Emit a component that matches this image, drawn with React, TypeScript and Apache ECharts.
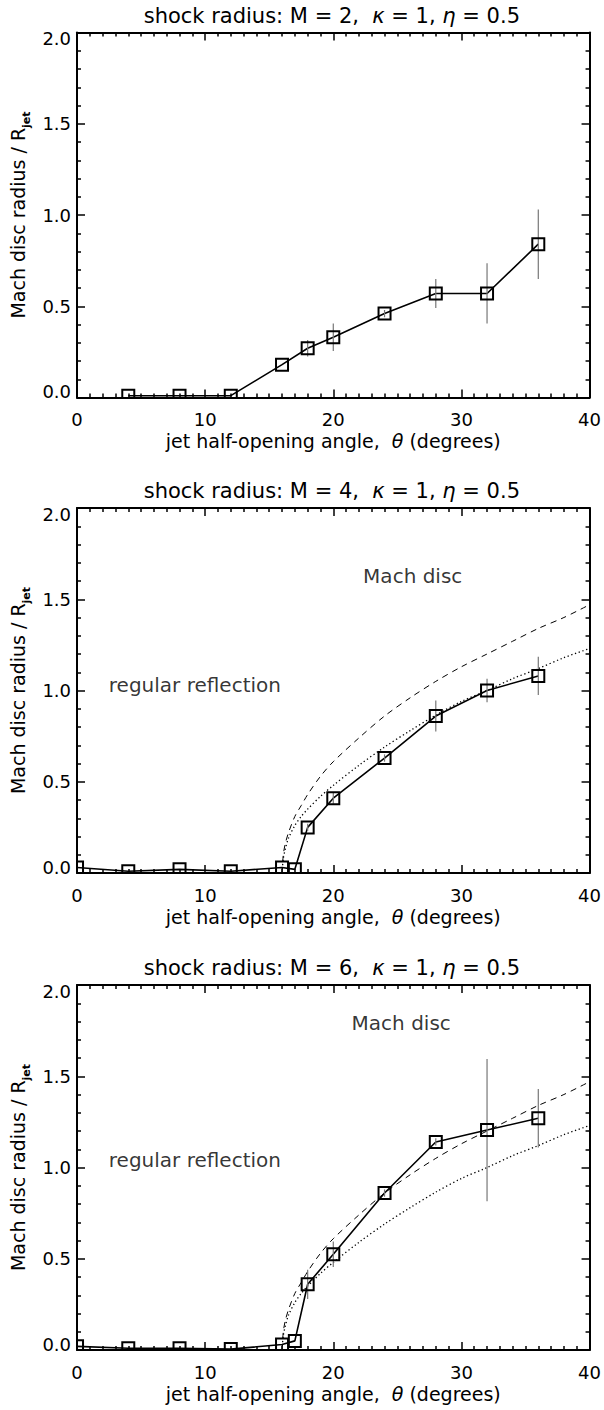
import React, { useEffect, useRef } from "react";
import * as echarts from "echarts";

// ---- data ----
const THETA_M2 = [4, 8, 12, 16, 18, 20, 24, 28, 32, 36];
const RADIUS_M2 = [0.01, 0.01, 0.01, 0.18, 0.27, 0.33, 0.46, 0.57, 0.57, 0.84];
const ERROR_M2 = [0, 0, 0, 0, 0.045, 0.075, 0.02, 0.08, 0.165, 0.19];

const THETA = [0, 4, 8, 12, 16, 17, 18, 20, 24, 28, 32, 36];
const RADIUS_M4 = [0.03, 0.01, 0.02, 0.01, 0.03, 0.02, 0.25, 0.41, 0.63, 0.86, 1.0, 1.08];
const ERROR_M4 = [0, 0, 0, 0, 0, 0, 0.02, 0.03, 0.02, 0.085, 0.065, 0.105];
const RADIUS_M6 = [0.02, 0.01, 0.01, 0.005, 0.03, 0.05, 0.36, 0.525, 0.86, 1.14, 1.205, 1.27];
const ERROR_M6 = [0, 0, 0, 0, 0, 0, 0.08, 0.07, 0.02, 0.02, 0.39, 0.16];

const CURVE_THETA = [16, 16.1, 16.25, 16.5, 17, 17.5, 18, 19, 20, 22, 24, 26, 28, 30, 32, 34, 36, 38, 40];
const CURVE_DASHED = [0.0, 0.1, 0.16, 0.22, 0.31, 0.37, 0.43, 0.53, 0.61, 0.74, 0.86, 0.96, 1.05, 1.13, 1.2, 1.27, 1.34, 1.4, 1.47];
const CURVE_DOTTED = [0.0, 0.08, 0.13, 0.19, 0.26, 0.31, 0.35, 0.42, 0.48, 0.59, 0.69, 0.78, 0.865, 0.94, 1.0, 1.065, 1.12, 1.18, 1.23];

const MACH_NUMBERS = [2, 4, 6];
const X_MIN = 0;
const X_MAX = 40;
const X_STEP = 10;
const Y_MIN = 0;
const Y_MAX = 2;
const Y_STEP = 0.5;

const LABEL_MACH_DISC = "Mach disc";
const LABEL_REGULAR = "regular reflection";
const MACH_DISC_POS = [null, [26.2, 1.63], [25.3, 1.79]];
const REGULAR_POS = [null, [9.2, 1.03], [9.2, 1.04]];

// ---- layout ----
const W = 604;
const H = 1410;
const GRID_LEFT = 72.7;
const GRID_WIDTH = 518.3;
const GRID_TOPS = [32.5, 508, 985];
const GRID_HEIGHT = 365;
const FONT = '"DejaVu Sans", "Liberation Sans", sans-serif';
const FS_TICK = 18;
const FS_NAME = 19;
const FS_NOTE = 20;
const FS_TITLE = 21;

function zip(xs: number[], ys: number[], es?: number[]) {
  return xs.map((x, i) => (es ? [x, ys[i], es[i]] : [x, ys[i]]));
}

const PANELS = [
  { mach: MACH_NUMBERS[0], data: zip(THETA_M2, RADIUS_M2, ERROR_M2), curves: false },
  { mach: MACH_NUMBERS[1], data: zip(THETA, RADIUS_M4, ERROR_M4), curves: true },
  { mach: MACH_NUMBERS[2], data: zip(THETA, RADIUS_M6, ERROR_M6), curves: true },
];

function buildOption() {
  const grid: any[] = [];
  const xAxis: any[] = [];
  const yAxis: any[] = [];
  const series: any[] = [];
  const graphic: any[] = [];

  const ts = (fs: number) => ({ fontFamily: FONT, fontSize: fs, color: "#000" });

  PANELS.forEach((p, i) => {
    grid.push({ left: GRID_LEFT, width: GRID_WIDTH, top: GRID_TOPS[i], height: GRID_HEIGHT, containLabel: false });
    const axisLine = { show: true, onZero: false, lineStyle: { color: "#000", width: 2 } };
    const tick = { show: true, inside: true, length: 8, lineStyle: { color: "#000", width: 1.5 } };
    const xMinor = { show: true, splitNumber: 10, length: 4, lineStyle: { color: "#000", width: 1.5 } };
    const yMinor = { show: true, splitNumber: 5, length: 4, lineStyle: { color: "#000", width: 1.5 } };
    xAxis.push({
      type: "value", gridIndex: i, position: "bottom", min: X_MIN, max: X_MAX, interval: X_STEP,
      axisLine, axisTick: tick, minorTick: xMinor, splitLine: { show: false },
      axisLabel: { ...ts(FS_TICK), margin: 13, formatter: (v: number) => String(v) },
      name: "{n|jet half-opening angle,  }{i|θ}{n| (degrees)}",
      nameLocation: "middle", nameGap: 34,
      nameTextStyle: {
        ...ts(FS_NAME),
        rich: { n: { ...ts(FS_NAME) }, i: { ...ts(FS_NAME), fontStyle: "italic" } },
      },
    });
    xAxis.push({
      type: "value", gridIndex: i, position: "top", min: X_MIN, max: X_MAX, interval: X_STEP,
      axisLine, axisTick: tick, minorTick: xMinor, splitLine: { show: false },
      axisLabel: { show: false },
    });
    yAxis.push({
      type: "value", gridIndex: i, position: "left", min: Y_MIN, max: Y_MAX, interval: Y_STEP,
      axisLine, axisTick: tick, minorTick: yMinor, splitLine: { show: false },
      axisLabel: {
        ...ts(FS_TICK), margin: 6, lineHeight: 12,
        formatter: (v: number) => v.toFixed(1),
        verticalAlignMinLabel: "bottom", verticalAlignMaxLabel: "top",
      },
      name: "{n|Mach disc radius / R}{s|jet}",
      nameLocation: "middle", nameRotate: 90, nameGap: 43,
      nameTextStyle: {
        ...ts(FS_NAME),
        rich: {
          n: { ...ts(FS_NAME), lineHeight: 28, verticalAlign: "middle" },
          s: { ...ts(11), fontWeight: "bold", lineHeight: 28, verticalAlign: "bottom" },
        },
      },
    });
    yAxis.push({
      type: "value", gridIndex: i, position: "right", min: Y_MIN, max: Y_MAX, interval: Y_STEP,
      axisLine, axisTick: tick, minorTick: yMinor, splitLine: { show: false },
      axisLabel: { show: false },
    });

    const xi = i * 2;
    const yi = i * 2;

    if (p.curves) {
      series.push({
        type: "line", xAxisIndex: xi, yAxisIndex: yi, data: zip(CURVE_THETA, CURVE_DASHED),
        showSymbol: false, symbol: "none", smooth: 0.3,
        lineStyle: { color: "#000", width: 1, type: [6, 5] }, z: 2,
      });
      series.push({
        type: "line", xAxisIndex: xi, yAxisIndex: yi, data: zip(CURVE_THETA, CURVE_DOTTED),
        showSymbol: false, symbol: "none", smooth: 0.3,
        lineStyle: { color: "#000", width: 1.3, type: [1.3, 2.6] }, z: 2,
      });
      series.push({
        type: "scatter", xAxisIndex: xi, yAxisIndex: yi, symbolSize: 1,
        itemStyle: { color: "rgba(0,0,0,0)" },
        data: [MACH_DISC_POS[i], REGULAR_POS[i]],
        label: {
          show: true, position: "inside", ...ts(FS_NOTE),
          formatter: (prm: any) => (prm.dataIndex === 0 ? LABEL_MACH_DISC : LABEL_REGULAR),
        },
        silent: true, z: 1,
      });
    }

    series.push({
      type: "line", xAxisIndex: xi, yAxisIndex: yi, data: p.data.map((d) => [d[0], d[1]]),
      showSymbol: false, symbol: "none", lineStyle: { color: "#000", width: 1.6 }, z: 3,
    });

    series.push({
      type: "custom", xAxisIndex: xi, yAxisIndex: yi, data: p.data, clip: true, z: 4,
      encode: { x: 0, y: 1 },
      renderItem: (params: any, api: any) => {
        const x = api.value(0);
        const y = api.value(1);
        const e = api.value(2);
        const c = api.coord([x, y]);
        const children: any[] = [];
        if (e > 0) {
          const lo = api.coord([x, y - e]);
          const hi = api.coord([x, y + e]);
          children.push({
            type: "line",
            shape: { x1: lo[0], y1: lo[1], x2: hi[0], y2: hi[1] },
            style: { stroke: "#777", lineWidth: 1.2 },
          });
        }
        children.push({
          type: "rect",
          shape: { x: c[0] - 6, y: c[1] - 6, width: 12, height: 12 },
          style: { fill: "none", stroke: "#000", lineWidth: 2 },
        });
        return { type: "group", children };
      },
    });

    graphic.push({
      type: "text",
      x: GRID_LEFT + GRID_WIDTH / 2,
      y: GRID_TOPS[i] - 17,
      style: {
        text: `{n|shock radius: M = ${p.mach},  }{i|κ}{n| = 1, }{i|η}{n| = 0.5}`,
        rich: {
          n: { fontFamily: FONT, fontSize: FS_TITLE, fill: "#000" },
          i: { fontFamily: FONT, fontSize: FS_TITLE, fontStyle: "italic", fill: "#000" },
        },
        font: `${FS_TITLE}px ${FONT}`,
        fill: "#000",
        align: "center",
        verticalAlign: "middle",
        textAlign: "center",
        textVerticalAlign: "middle",
      },
    });
  });

  return {
    animation: false,
    backgroundColor: "#fff",
    grid,
    xAxis,
    yAxis,
    series,
    graphic,
  };
}

export default function App() {
  const ref = useRef<HTMLDivElement>(null);
  useEffect(() => {
    document.body.style.margin = "0";
    if (!ref.current) return;
    const chart = echarts.init(ref.current, undefined, { renderer: "svg", width: W, height: H });
    chart.setOption(buildOption() as any);
    return () => {
      chart.dispose();
    };
  }, []);
  return <div ref={ref} style={{ width: W, height: H, background: "#fff" }} />;
}
